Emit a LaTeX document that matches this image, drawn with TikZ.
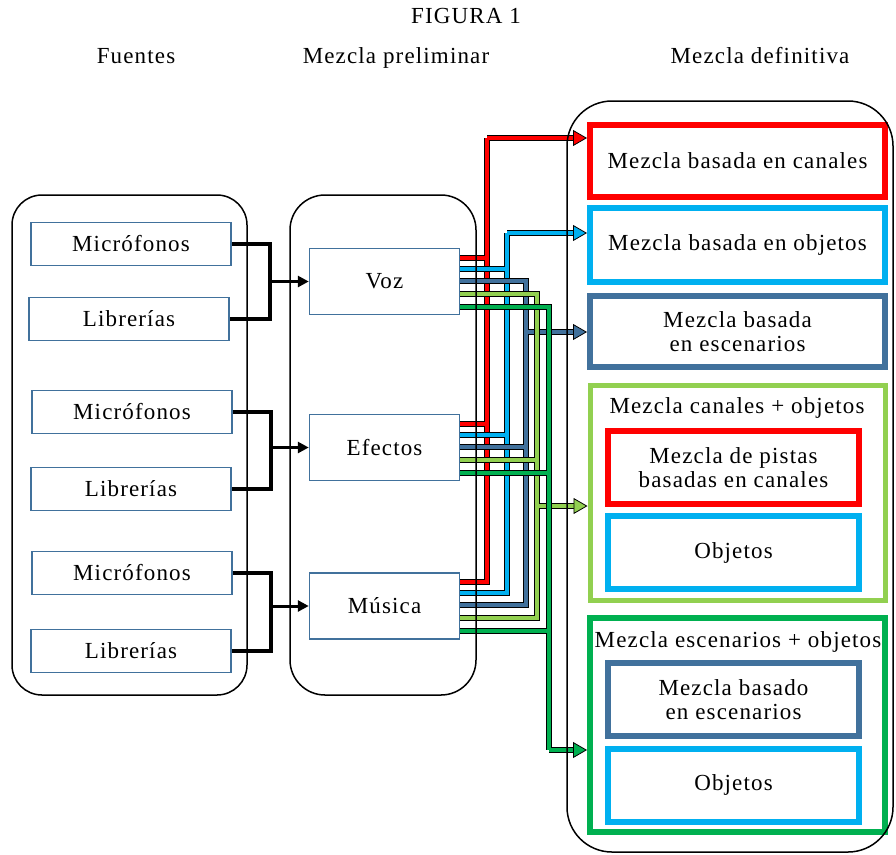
\documentclass[tikz,border=0pt]{standalone}
\usepackage{fontspec}
\setmainfont{Liberation Serif}[LetterSpace=5]
\usetikzlibrary{arrows.meta}

\definecolor{cred}{HTML}{FF0000}
\definecolor{cblue}{HTML}{00B0F0}
\definecolor{cdark}{HTML}{41719C}
\definecolor{clight}{HTML}{92D050}
\definecolor{cgreen}{HTML}{00B050}
\definecolor{srcblue}{HTML}{41719C}

\begin{document}
\begin{tikzpicture}[x=1pt, y=-1pt,
    every node/.style={font=\fontsize{23}{24}\selectfont},
    src/.style={draw=srcblue, line width=1.5pt, minimum width=200pt, minimum height=43pt},
    mix/.style={draw=srcblue, line width=1.5pt, minimum width=150pt, minimum height=66pt},
    outbox/.style={draw=#1, line width=6pt, minimum width=295pt, minimum height=72pt, align=center},
    inbox/.style={draw=#1, line width=6pt, minimum width=251pt, minimum height=73pt, align=center},
    group/.style={draw, line width=1.5pt},
    brk/.style={line width=3.5pt},
    wire/.style={draw=black, line width=6pt},
    core/.style={draw=#1, line width=3.8pt}]
    \useasboundingbox (0,0) rectangle (896,854);

    % headings
    \node[anchor=base] (fig) at (466,23) {FIGURA 1};
    \node[anchor=base] (fue) at (136,63) {Fuentes};
    \node[anchor=base] (pre) at (396,63) {Mezcla preliminar};
    \node[anchor=base] (def) at (760,63) {Mezcla definitiva};

    % sources
    \node[src] (mic1) at (131,244) {Micrófonos};
    \node[src] (lib1) at (129,319) {Librerías};
    \node[src] (mic2) at (132,412) {Micrófonos};
    \node[src] (lib2) at (131,489) {Librerías};
    \node[src] (mic3) at (132,573) {Micrófonos};
    \node[src] (lib3) at (131,651) {Librerías};

    % preliminary mix
    \node[mix] (voz) at (384.5,281.5) {Voz};
    \node[mix] (efectos) at (384.5,447.5) {Efectos};
    \node[mix] (musica) at (384.5,606) {Música};

    % final mix
    \node[outbox=cred] (o1) at (737.5,161) {Mezcla basada en canales};
    \node[outbox=cblue, minimum height=74pt] (o2) at (737.5,245) {Mezcla basada en objetos};
    \node[outbox=cdark, minimum height=71pt] (o3) at (737.5,331.5) {Mezcla basada\\en escenarios};
    \node[outbox=clight, line width=5pt, minimum height=215pt] (o4) at (737.5,493) {};
    \node (t4) at (737,408) {Mezcla canales + objetos};
    \node[inbox=cred] (o4a) at (733.5,467.5) {Mezcla de pistas\\basadas en canales};
    \node[inbox=cblue] (o4b) at (733.5,552.5) {Objetos};
    \node[outbox=cgreen, minimum height=214pt] (o5) at (737.5,725) {};
    \node (t5) at (738,642) {Mezcla escenarios + objetos};
    \node[inbox=cdark] (o5a) at (733.5,699.5) {Mezcla basado\\en escenarios};
    \node[inbox=cblue] (o5b) at (733.5,785) {Objetos};

    % sources to preliminary mix
    \foreach \m/\l/\t in {mic1/lib1/voz, mic2/lib2/efectos, mic3/lib3/musica} {
        \draw[brk] (\m.east) -- ++(38,0) coordinate (k) |- (\l.east);
        \draw[brk, line width=3pt, -{Triangle[length=11pt, width=11pt]}] (k |- \t.west) -- (\t.west);
    }

    % preliminary mix to final mix
    \foreach \c/\bx/\off/\ay/\tgt in {cred/487/10/138/o1, cblue/507/21/233/o2, cdark/526/33/332/o3, clight/537/46/506/o4, cgreen/549/59/750/o5} {
        \coordinate (bus) at (\bx,\ay);
        \foreach \b in {voz, efectos, musica}
            \draw[wire] ([yshift=-\off pt]\b.north east) -| (bus);
        \draw[wire, shorten >=13pt] (bus) -- (bus -| \tgt.west);
        \foreach \b in {voz, efectos, musica}
            \draw[core=\c] ([yshift=-\off pt]\b.north east) -| (bus);
        \draw[core=\c, -{Triangle[length=14pt, width=16pt, color=black, fill=\c, line width=0.8pt]}] (bus) -- (bus -| \tgt.west);
    }

    % groups
    \draw[group, rounded corners=30pt] (12,195) rectangle (247,695);
    \draw[group, rounded corners=35pt] (290,195) rectangle (476,695);
    \draw[group, rounded corners=45pt] (567,101) rectangle (893,852);
\end{tikzpicture}
\end{document}
